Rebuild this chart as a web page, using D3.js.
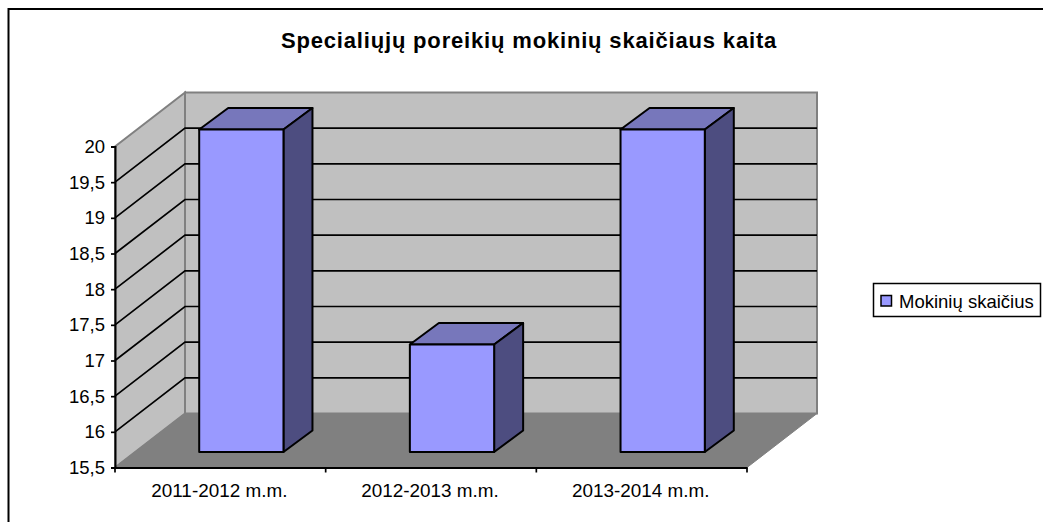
<!DOCTYPE html>
<html>
  <head>
    <meta charset="utf-8">
    <title>Specialiųjų poreikių mokinių skaičiaus kaita</title>
    <script src="https://d3js.org/d3.v7.min.js"></script>
    <style>
      html, body { margin: 0; padding: 0; background: #fff; overflow: hidden; }
      svg { display: block; }
      text { font-family: "Liberation Sans", Arial, sans-serif; fill: #000; }
    </style>
  </head>
  <body>
    <div id="chart"></div>
    <script>
// Data
const categories = ["2011-2012 m.m.", "2012-2013 m.m.", "2013-2014 m.m."];
const values = [20, 17, 20];
const yTicks = [15.5, 16, 16.5, 17, 17.5, 18, 18.5, 19, 19.5, 20];
const seriesName = "Mokinių skaičius";
const chartTitle = "Specialiųjų poreikių mokinių skaičiaus kaita";

// Dimensions
const width = 1043;
const height = 522;
const frontLeft = 115;
const frontRight = 747;
const frontTop = 146.5;
const frontBottom = 467.5;
const depthX = 70;
const depthY = 54;
// where the bars stand on the floor, measured from the front edge
const barShiftX = 21;
const barShiftY = 15.5;
const barDepthX = 29;
const barDepthY = 21.5;

const x = d3.scaleBand()
  .domain(categories)
  .range([frontLeft, frontRight])
  .paddingInner(0.6)
  .paddingOuter(0.3);

const y = d3.scaleLinear()
  .domain([15.5, 20])
  .range([frontBottom, frontTop]);

// bars come out a touch taller than the wall scale in the original
const yBar = d3.scaleLinear()
  .domain([15.5, 20])
  .range([frontBottom, frontTop - 1.5]);

const fmt = d => String(d).replace(".", ",");
const poly = pts => "M" + pts.map(p => p.join(",")).join("L") + "Z";

const svg = d3.select("#chart").append("svg")
  .attr("width", width)
  .attr("height", height)
  .attr("viewBox", [0, 0, width, height]);

// Outer frame, only top and left show up
svg.append("path")
  .attr("d", `M8.5,${height}V9H${width}`)
  .attr("fill", "none")
  .attr("stroke", "#000")
  .attr("stroke-width", 2);

// Title
svg.append("text")
  .attr("x", 529)
  .attr("y", 48)
  .attr("text-anchor", "middle")
  .style("font-size", "22px")
  .style("font-weight", "bold")
  .style("letter-spacing", "0.83px")
  .text(chartTitle);

// Back wall
svg.append("rect")
  .attr("x", frontLeft + depthX)
  .attr("y", frontTop - depthY)
  .attr("width", frontRight - frontLeft)
  .attr("height", frontBottom - frontTop)
  .attr("fill", "#c0c0c0")
  .attr("stroke", "#808080")
  .attr("stroke-width", 2);

// Side wall
svg.append("path")
  .attr("d", poly([
    [frontLeft, frontTop], [frontLeft + depthX, frontTop - depthY],
    [frontLeft + depthX, frontBottom - depthY], [frontLeft, frontBottom]
  ]))
  .attr("fill", "#c0c0c0")
  .attr("stroke", "#808080")
  .attr("stroke-width", 2);

// Floor
svg.append("path")
  .attr("d", poly([
    [frontLeft, frontBottom], [frontLeft + depthX, frontBottom - depthY],
    [frontRight + depthX, frontBottom - depthY], [frontRight, frontBottom]
  ]))
  .attr("fill", "#808080")
  .attr("stroke", "#808080")
  .attr("stroke-width", 1);

// Gridlines along side and back wall
const gridTicks = yTicks.filter(d => d > 15.5 && d < 20);
svg.append("g")
  .selectAll("path")
  .data(gridTicks)
  .join("path")
  .attr("fill", "none")
  .attr("stroke", "#000")
  .attr("stroke-width", 1.7)
  .attr("d", d => `M${frontLeft},${y(d)}L${frontLeft + depthX},${y(d) - depthY}H${frontRight + depthX}`);

// Bars
const bars = svg.append("g")
  .selectAll("g")
  .data(values)
  .join("g")
  .attr("stroke", "#000")
  .attr("stroke-width", 2)
  .attr("stroke-linejoin", "round");

const fx = (d, i) => x(categories[i]) + barShiftX;
const w = x.bandwidth();

bars.append("path")
  .attr("fill", "#7777bb")
  .attr("d", (d, i) => poly([
    [fx(d, i), yBar(d) - barShiftY], [fx(d, i) + barDepthX, yBar(d) - barShiftY - barDepthY],
    [fx(d, i) + w + barDepthX, yBar(d) - barShiftY - barDepthY], [fx(d, i) + w, yBar(d) - barShiftY]
  ]));

bars.append("path")
  .attr("fill", "#4d4d80")
  .attr("d", (d, i) => poly([
    [fx(d, i) + w, yBar(d) - barShiftY], [fx(d, i) + w + barDepthX, yBar(d) - barShiftY - barDepthY],
    [fx(d, i) + w + barDepthX, frontBottom - barShiftY - barDepthY], [fx(d, i) + w, frontBottom - barShiftY]
  ]));

bars.append("rect")
  .attr("fill", "#9999ff")
  .attr("x", fx)
  .attr("y", d => yBar(d) - barShiftY)
  .attr("width", w)
  .attr("height", d => frontBottom - yBar(d));

// Y axis
const yAxis = svg.append("g")
  .attr("transform", `translate(${frontLeft},0)`)
  .call(d3.axisLeft(y).tickValues(yTicks).tickFormat(fmt).tickSize(4).tickPadding(6));
yAxis.select(".domain").attr("stroke-width", 2);
yAxis.selectAll("line").attr("stroke-width", 1.7);
yAxis.selectAll("text")
  .style("font-family", '"Liberation Sans", Arial, sans-serif')
  .style("font-size", "18.5px");

// X axis, ticks sit between the categories
const xAxis = svg.append("g")
  .attr("transform", `translate(0,${frontBottom})`)
  .call(d3.axisBottom(x).tickSize(0).tickPadding(16));
xAxis.select(".domain").attr("stroke-width", 2);
xAxis.selectAll("text")
  .attr("dx", -1)
  .style("font-family", '"Liberation Sans", Arial, sans-serif')
  .style("font-size", "18.9px");
xAxis.selectAll(".sep")
  .data(d3.range(categories.length + 1))
  .join("line")
  .attr("class", "sep")
  .attr("stroke", "#000")
  .attr("stroke-width", 1.7)
  .attr("x1", i => frontLeft + i * x.step())
  .attr("x2", i => frontLeft + i * x.step())
  .attr("y1", 0)
  .attr("y2", 5);

// Legend
const legend = svg.append("g");
legend.append("rect")
  .attr("x", 873.5)
  .attr("y", 283.5)
  .attr("width", 167)
  .attr("height", 33)
  .attr("fill", "#fff")
  .attr("stroke", "#000")
  .attr("stroke-width", 1.5);
legend.append("rect")
  .attr("x", 881)
  .attr("y", 295.5)
  .attr("width", 10.5)
  .attr("height", 10.5)
  .attr("fill", "#9999ff")
  .attr("stroke", "#000")
  .attr("stroke-width", 1.5);
legend.append("text")
  .attr("x", 899)
  .attr("y", 307.5)
  .style("font-size", "18.5px")
  .text(seriesName);
    </script>
  </body>
</html>
